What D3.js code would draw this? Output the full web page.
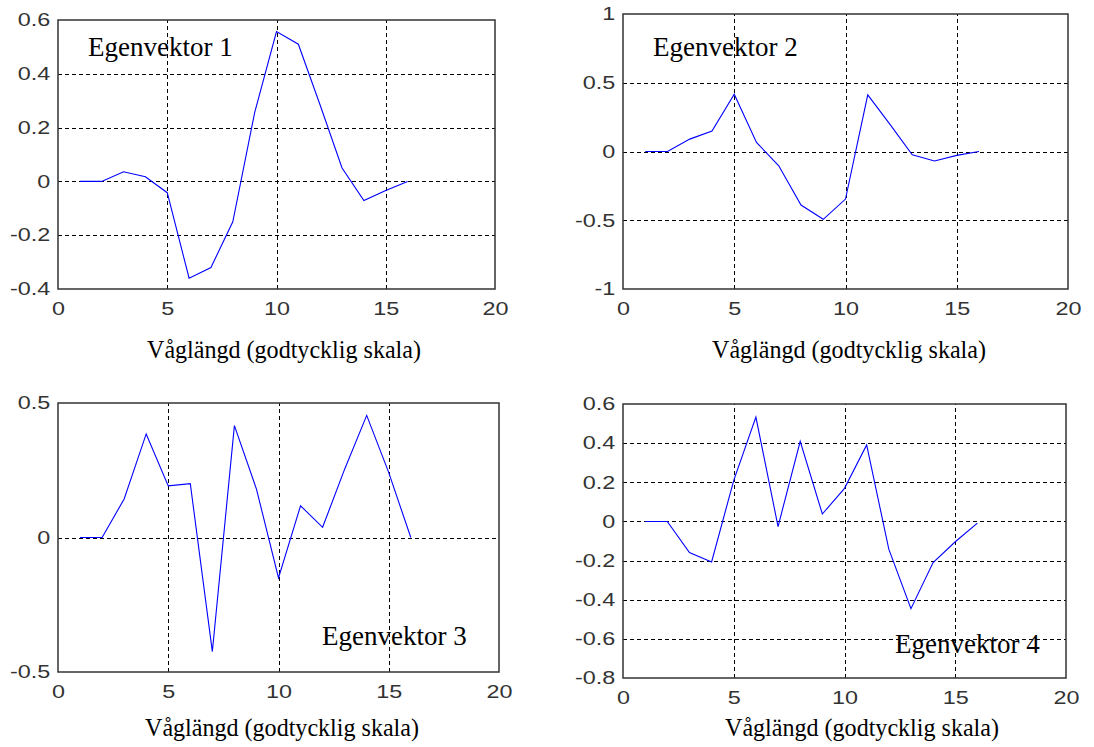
<!DOCTYPE html>
<html>
<head>
<meta charset="utf-8">
<script src="https://cdn.jsdelivr.net/npm/d3@7"></script>
<style>
  body { margin: 0; background: #fff; }
  svg { display: block; }
  .tick text { font-family: "Liberation Sans", Arial, sans-serif; font-size: 18px; fill: #333; }
  .domain { display: none; }
  .grid line { stroke: #000; stroke-dasharray: 4,3; stroke-width: 1; shape-rendering: crispEdges; }
  .note { font-family: "Liberation Serif", "Times New Roman", serif; font-size: 27px; fill: #000; }
  .xlabel { font-family: "Liberation Serif", "Times New Roman", serif; font-size: 25px; fill: #000; }
</style>
</head>
<body>
<div id="chart"></div>
<script>
// data
var wavelength = [1, 2, 3, 4, 5, 6, 7, 8, 9, 10, 11, 12, 13, 14, 15, 16];

var ev1 = [0, 0, 0.036, 0.017, -0.042, -0.36, -0.32, -0.15, 0.256, 0.557, 0.51, 0.283, 0.05, -0.071, -0.034, 0];
var ev2 = [0, 0, 0.09, 0.149, 0.417, 0.066, -0.104, -0.389, -0.493, -0.346, 0.412, 0.197, -0.024, -0.069, -0.028, 0];
var ev3 = [0, 0, 0.143, 0.385, 0.192, 0.2, -0.424, 0.416, 0.18, -0.15, 0.118, 0.038, 0.254, 0.454, 0.241, 0];
var ev4 = [0, 0, -0.159, -0.207, 0.21, 0.533, -0.026, 0.409, 0.038, 0.169, 0.391, -0.142, -0.446, -0.21, -0.104, -0.009];

var xTicks = [0, 5, 10, 15, 20];
var yTicks1 = [-0.4, -0.2, 0, 0.2, 0.4, 0.6];
var yTicks2 = [-1, -0.5, 0, 0.5, 1];
var yTicks3 = [-0.5, 0, 0.5];
var yTicks4 = [-0.8, -0.6, -0.4, -0.2, 0, 0.2, 0.4, 0.6];

var titles = ["Egenvektor 1", "Egenvektor 2", "Egenvektor 3", "Egenvektor 4"];
var xTitle = "Våglängd (godtycklig skala)";

// panel boxes and where the texts go
var panels = [
  {vals: ev1, ticks: yTicks1, box: {l: 58, t: 20, r: 495, b: 289}, note: [88, 56], lab: [284, 358]},
  {vals: ev2, ticks: yTicks2, box: {l: 623, t: 14, r: 1068, b: 289}, note: [653, 56], lab: [849, 358]},
  {vals: ev3, ticks: yTicks3, box: {l: 58, t: 403, r: 499, b: 672}, note: [322, 645], lab: [282, 736]},
  {vals: ev4, ticks: yTicks4, box: {l: 623, t: 404, r: 1066, b: 678}, note: [895, 653], lab: [862, 736]}
];

var svg = d3.select("#chart").append("svg")
  .attr("width", 1094)
  .attr("height", 747);

// plain hyphen for negatives, like the original
var fmt = function(d) { return String(+d.toFixed(1)); };

panels.forEach(function(p, i) {
  var w = p.box.r - p.box.l,
      h = p.box.b - p.box.t,
      ext = d3.extent(p.ticks);

  var x = d3.scaleLinear().domain([0, 20]).range([0, w]),
      y = d3.scaleLinear().domain(ext).range([h, 0]);

  var g = svg.append("g")
    .attr("transform", "translate(" + p.box.l + "," + p.box.t + ")");

  // grid, only inside the box
  g.append("g")
    .attr("class", "grid")
    .call(d3.axisLeft(y).tickValues(p.ticks.filter(function(d) { return d > ext[0] && d < ext[1]; }))
      .tickSize(-w).tickFormat(""));

  g.append("g")
    .attr("class", "grid")
    .attr("transform", "translate(0," + h + ")")
    .call(d3.axisBottom(x).tickValues([5, 10, 15]).tickSize(-h).tickFormat(""));

  // tick labels
  var ya = g.append("g")
    .call(d3.axisLeft(y).tickValues(p.ticks).tickSize(0).tickPadding(6).tickFormat(fmt));
  ya.selectAll(".tick text").attr("transform", "scale(1.3,1)");

  var xa = g.append("g")
    .attr("transform", "translate(0," + h + ")")
    .call(d3.axisBottom(x).tickValues(xTicks).tickSize(0).tickPadding(13).tickFormat(fmt));
  xa.selectAll(".tick text").attr("transform", "scale(1.3,1)");

  // the curve
  var line = d3.line()
    .x(function(d, j) { return x(wavelength[j]); })
    .y(function(d) { return y(d); });

  g.append("path")
    .datum(p.vals)
    .attr("d", line)
    .attr("fill", "none")
    .attr("stroke", "#0000ff")
    .attr("stroke-width", 1.1);

  // box
  g.append("rect")
    .attr("width", w)
    .attr("height", h)
    .attr("fill", "none")
    .attr("stroke", "#333")
    .attr("stroke-width", 1.5);

  svg.append("text")
    .attr("class", "note")
    .attr("x", p.note[0])
    .attr("y", p.note[1])
    .text(titles[i]);

  svg.append("text")
    .attr("class", "xlabel")
    .attr("x", p.lab[0])
    .attr("y", p.lab[1])
    .attr("text-anchor", "middle")
    .attr("textLength", 274)
    .attr("lengthAdjust", "spacingAndGlyphs")
    .text(xTitle);
});
</script>
</body>
</html>
